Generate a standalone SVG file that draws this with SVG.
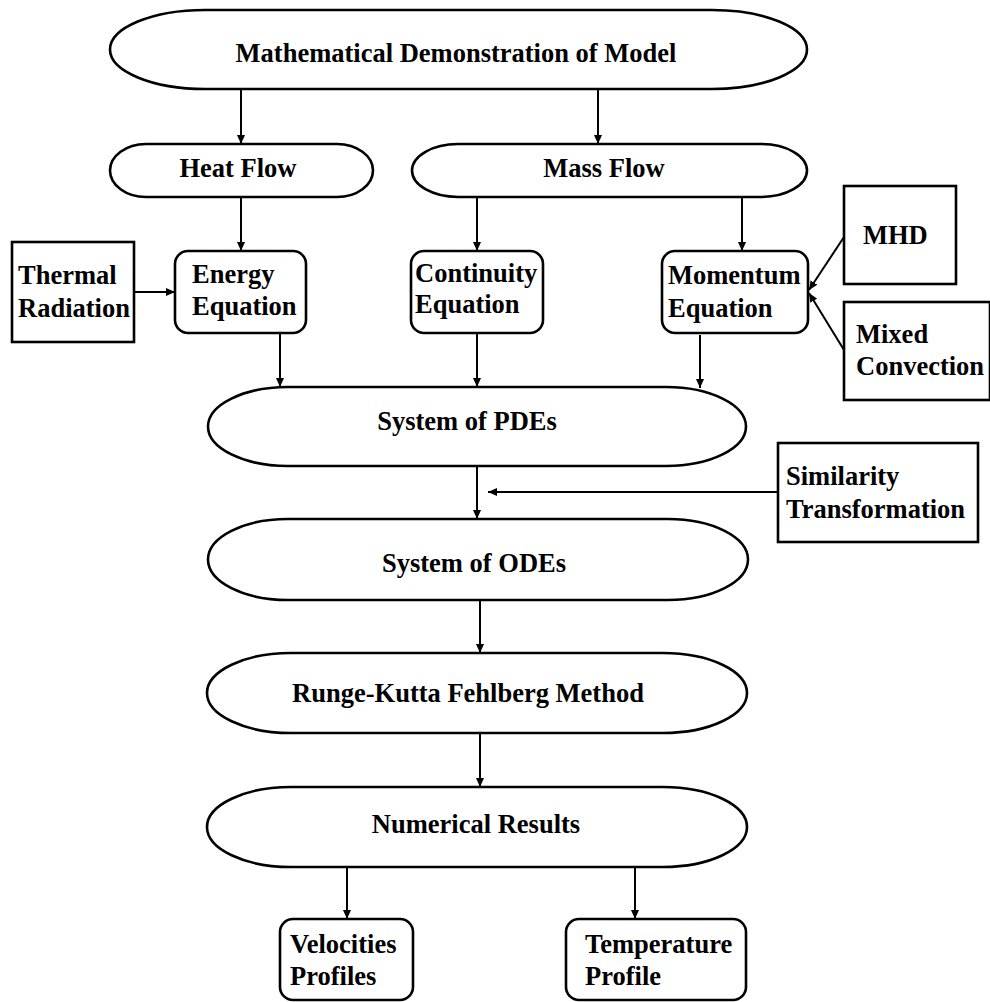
<svg xmlns="http://www.w3.org/2000/svg" width="990" height="1002" viewBox="0 0 990 1002">
<style>
.shape{fill:#fff;stroke:#000;stroke-width:2.6}
.lbl{font-family:"Liberation Serif","Times New Roman",serif;font-weight:bold;font-size:26.5px;fill:#000}
.mid{text-anchor:middle}
.conn line{stroke:#000;stroke-width:2}
</style>
<defs>
<marker id="ah" markerUnits="userSpaceOnUse" markerWidth="9" markerHeight="8" refX="9" refY="4" orient="auto">
<path d="M0,0 L9,4 L0,8 z" fill="#000"/>
</marker>
</defs>
<rect width="990" height="1002" fill="#fff"/>

<g class="conn">
<line x1="241" y1="89" x2="241" y2="144" marker-end="url(#ah)"/>
<line x1="598" y1="89" x2="598" y2="144" marker-end="url(#ah)"/>
<line x1="241" y1="197" x2="241" y2="251" marker-end="url(#ah)"/>
<line x1="477" y1="197" x2="477" y2="251" marker-end="url(#ah)"/>
<line x1="742" y1="197" x2="742" y2="251" marker-end="url(#ah)"/>
<line x1="134" y1="292" x2="175" y2="292" marker-end="url(#ah)"/>
<line x1="844" y1="237" x2="809" y2="290" marker-end="url(#ah)"/>
<line x1="844" y1="350" x2="809" y2="293" marker-end="url(#ah)"/>
<line x1="280" y1="333" x2="280" y2="387" marker-end="url(#ah)"/>
<line x1="477" y1="333" x2="477" y2="387" marker-end="url(#ah)"/>
<line x1="700" y1="335" x2="700" y2="388" marker-end="url(#ah)"/>
<line x1="477" y1="466" x2="477" y2="519" marker-end="url(#ah)"/>
<line x1="778" y1="492" x2="488" y2="492" marker-end="url(#ah)"/>
<line x1="480" y1="600" x2="480" y2="653" marker-end="url(#ah)"/>
<line x1="480" y1="733" x2="480" y2="787" marker-end="url(#ah)"/>
<line x1="347" y1="867" x2="347" y2="919" marker-end="url(#ah)"/>
<line x1="635" y1="867" x2="635" y2="919" marker-end="url(#ah)"/>
</g>

<g id="model">
<rect class="shape" x="110" y="10" width="697" height="79" rx="95" ry="39.5"/>
<text class="lbl mid" x="456" y="62">Mathematical Demonstration of Model</text>
</g>
<g id="heat-flow">
<rect class="shape" x="110" y="144" width="263" height="53" rx="36" ry="26.5"/>
<text class="lbl mid" x="238" y="177">Heat Flow</text>
</g>
<g id="mass-flow">
<rect class="shape" x="412" y="144" width="395" height="53" rx="46" ry="26.5"/>
<text class="lbl mid" x="604" y="177">Mass Flow</text>
</g>
<g id="thermal-radiation">
<rect class="shape" x="12" y="242" width="122" height="100"/>
<text class="lbl" x="18" y="284">Thermal</text>
<text class="lbl" x="18" y="317">Radiation</text>
</g>
<g id="energy-equation">
<rect class="shape" x="175" y="251" width="131" height="82" rx="13"/>
<text class="lbl" x="192" y="283">Energy</text>
<text class="lbl" x="192" y="315">Equation</text>
</g>
<g id="continuity-equation">
<rect class="shape" x="411" y="251" width="132" height="82" rx="13"/>
<text class="lbl" x="415" y="282">Continuity</text>
<text class="lbl" x="415" y="313">Equation</text>
</g>
<g id="momentum-equation">
<rect class="shape" x="662" y="251" width="146" height="82" rx="13"/>
<text class="lbl" x="668" y="284">Momentum</text>
<text class="lbl" x="668" y="317">Equation</text>
</g>
<g id="mhd">
<rect class="shape" x="844" y="186" width="112" height="98"/>
<text class="lbl" x="863" y="244">MHD</text>
</g>
<g id="mixed-convection">
<rect class="shape" x="844" y="302" width="146" height="98"/>
<text class="lbl" x="856" y="343">Mixed</text>
<text class="lbl" x="856" y="375">Convection</text>
</g>
<g id="pdes">
<rect class="shape" x="208" y="387" width="538" height="79" rx="80" ry="39.5"/>
<text class="lbl mid" x="467" y="430">System of PDEs</text>
</g>
<g id="similarity-transformation">
<rect class="shape" x="778" y="443" width="200" height="99"/>
<text class="lbl" x="786" y="485">Similarity</text>
<text class="lbl" x="786" y="518">Transformation</text>
</g>
<g id="odes">
<rect class="shape" x="208" y="519" width="540" height="81" rx="80" ry="40.5"/>
<text class="lbl mid" x="474" y="572">System of ODEs</text>
</g>
<g id="rkf">
<rect class="shape" x="207" y="653" width="540" height="80" rx="84" ry="40"/>
<text class="lbl mid" x="468" y="702">Runge-Kutta Fehlberg Method</text>
</g>
<g id="numerical-results">
<rect class="shape" x="207" y="787" width="540" height="80" rx="84" ry="40"/>
<text class="lbl mid" x="476" y="833">Numerical Results</text>
</g>
<g id="velocities-profiles">
<rect class="shape" x="280" y="919" width="133" height="81" rx="13"/>
<text class="lbl" x="290" y="953">Velocities</text>
<text class="lbl" x="290" y="985">Profiles</text>
</g>
<g id="temperature-profile">
<rect class="shape" x="566" y="919" width="180" height="81" rx="13"/>
<text class="lbl" x="585" y="953">Temperature</text>
<text class="lbl" x="585" y="985">Profile</text>
</g>
</svg>
